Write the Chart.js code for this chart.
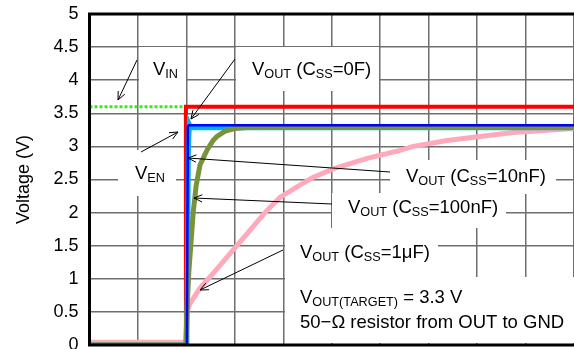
<!DOCTYPE html>
<html>
<head>
<meta charset="utf-8">
<script src="https://cdn.jsdelivr.net/npm/chart.js@4.4.1/dist/chart.umd.min.js"></script>
<style>
  html, body { margin: 0; padding: 0; background: #fff; }
  #wrap { width: 574px; height: 349px; position: relative; }
</style>
</head>
<body>
<div id="wrap"><canvas id="c" width="574" height="349"></canvas></div>
<script>
// ---- data (x in time divisions 0..10, y in volts) ----
const yTickLabels = ['0','0.5','1','1.5','2','2.5','3','3.5','4','4.5','5'];

const vinX = [0, 1.99];
const vinY = [3.6, 3.6];

const enX = [0, 1.99, 1.99, 10];
const enY = [0, 0, 3.6, 3.6];

const out0fX = [0, 2.01, 2.03, 2.05, 10];
const out0fY = [0, 0, 3.3, 3.32, 3.32];

const out10nX = [0, 2.01, 2.04, 2.06, 2.09, 2.3, 10];
const out10nY = [0, 0, 2.9, 3.33, 3.28, 3.28, 3.28];

const out100nX = [0, 1.99, 2.01, 2.05, 2.1, 2.14, 2.2, 2.28, 2.43, 2.55, 2.63, 2.8, 3.0, 3.31, 3.58, 10];
const out100nY = [0, 0, 0.5, 1.1, 1.6, 2.0, 2.4, 2.72, 2.95, 3.09, 3.15, 3.23, 3.27, 3.29, 3.3, 3.29];

const out1uX = [0, 1.99, 2.01, 2.07, 2.28, 2.55, 2.9, 3.25, 3.62, 3.93, 4.35, 4.61, 5.03, 5.73, 6.41, 6.68, 7.38, 8.06, 8.74, 9.4, 10];
const out1uY = [0.04, 0.04, 0.5, 0.62, 0.86, 1.08, 1.38, 1.68, 2.0, 2.23, 2.42, 2.53, 2.66, 2.82, 2.94, 3.0, 3.09, 3.15, 3.21, 3.24, 3.27];

function pts(xs, ys) { return xs.map((x, i) => ({ x: x, y: ys[i] })); }

const FONT = '"Liberation Sans", Arial, Helvetica, sans-serif';
const AREA = { top: 14, bottom: 345, left: 89.5, right: 574 };

// ---- annotation layout (pixels) ----
const boxes = [
  [139, 47, 186, 100],
  [236, 47, 379, 91],
  [118, 150, 176, 196],
  [390, 160, 556, 194],
  [332, 193, 506, 228],
  [285, 228, 438, 277],
  [285, 277, 574, 343]
];
const labels = [
  { x: 153, y: 75, parts: [['V'], ['IN', 1]] },
  { x: 252, y: 75, parts: [['V'], ['OUT', 1], [' (C'], ['SS', 1], ['=0F)']] },
  { x: 135, y: 179, parts: [['V'], ['EN', 1]] },
  { x: 406, y: 182, parts: [['V'], ['OUT', 1], [' (C'], ['SS', 1], ['=10nF)']] },
  { x: 348, y: 213, parts: [['V'], ['OUT', 1], [' (C'], ['SS', 1], ['=100nF)']] },
  { x: 300, y: 258, parts: [['V'], ['OUT', 1], [' (C'], ['SS', 1], ['=1\u03bcF)']] },
  { x: 300, y: 303, parts: [['V'], ['OUT(TARGET)', 1], [' = 3.3 V']] },
  { x: 300, y: 328, parts: [['50\u2212\u03a9 resistor from OUT to GND']] }
];
const arrows = [
  [137, 60, 118, 100],
  [235, 59, 191, 119],
  [141, 152, 178, 132],
  [390, 172, 188, 158],
  [332, 204, 194, 198],
  [283, 250, 200, 290]
];

const annot = {
  id: 'annot',
  beforeDatasetsDraw(chart) {
    const ctx = chart.ctx;
    ctx.save();
    ctx.fillStyle = '#ffffff';
    boxes.forEach(b => ctx.fillRect(b[0], b[1], b[2] - b[0], b[3] - b[1]));
    ctx.restore();
  },
  afterDatasetsDraw(chart) {
    const ctx = chart.ctx;
    const a = chart.chartArea;
    ctx.save();
    // frame
    ctx.strokeStyle = '#000';
    ctx.lineWidth = 3;
    ctx.beginPath();
    ctx.moveTo(a.right + 2, a.top);
    ctx.lineTo(a.left, a.top);
    ctx.lineTo(a.left, a.bottom);
    ctx.lineTo(a.right + 2, a.bottom);
    ctx.stroke();
    // arrows
    ctx.strokeStyle = '#000';
    ctx.lineWidth = 1;
    arrows.forEach(ar => {
      const [x1, y1, x2, y2] = ar;
      ctx.beginPath();
      ctx.moveTo(x1, y1); ctx.lineTo(x2, y2);
      const ang = Math.atan2(y2 - y1, x2 - x1);
      const L = 9, w = 0.42;
      ctx.moveTo(x2 - L * Math.cos(ang - w), y2 - L * Math.sin(ang - w));
      ctx.lineTo(x2, y2);
      ctx.lineTo(x2 - L * Math.cos(ang + w), y2 - L * Math.sin(ang + w));
      ctx.stroke();
    });
    // text
    ctx.fillStyle = '#000';
    ctx.textBaseline = 'alphabetic';
    ctx.textAlign = 'left';
    labels.forEach(lb => {
      let x = lb.x;
      lb.parts.forEach(p => {
        const sub = p[1] === 1;
        ctx.font = (sub ? '12.7px ' : '18.5px ') + FONT;
        ctx.fillText(p[0], x, lb.y + (sub ? 3 : 0));
        x += ctx.measureText(p[0]).width;
      });
    });
    ctx.restore();
  }
};

const ds = (label, xs, ys, color, width, extra) => Object.assign({
  label: label,
  data: pts(xs, ys),
  borderColor: color,
  backgroundColor: color,
  borderWidth: width,
  pointRadius: 0,
  tension: 0,
  fill: false
}, extra || {});

const chart = new Chart(document.getElementById('c'), {
  type: 'line',
  data: {
    datasets: [
      ds('VOUT (CSS=0F)', out0fX, out0fY, '#0000ff', 2.5),
      ds('VOUT (CSS=100nF)', out100nX, out100nY, '#77933c', 5),
      ds('VOUT (CSS=10nF)', out10nX, out10nY, '#00b0f0', 5),
      ds('VEN', enX, enY, '#ff0000', 4),
      ds('VIN', vinX, vinY, '#33ee11', 3, { borderDash: [3, 2] }),
      ds('VOUT (CSS=1uF)', out1uX, out1uY, '#ffaabb', 5)
    ]
  },
  options: {
    responsive: false,
    animation: false,
    events: [],
    layout: { autoPadding: false, padding: { top: 14, right: 0, bottom: 0, left: 0 } },
    plugins: { legend: { display: false }, tooltip: { enabled: false } },
    scales: {
      x: {
        type: 'linear', min: 0, max: 10,
        ticks: { display: false, stepSize: 1 },
        grid: { color: '#6e6e6e', lineWidth: 1.5, drawTicks: false },
        border: { display: false },
        afterFit(s) { s.height = 4; s.paddingLeft = 0; s.paddingRight = 0; }
      },
      y: {
        min: 0, max: 5,
        ticks: {
          stepSize: 0.5, padding: 11, color: '#000',
          font: { family: FONT, size: 18 },
          callback: (v) => yTickLabels[Math.round(v * 2)]
        },
        grid: { color: '#6e6e6e', lineWidth: 1.5, drawTicks: false },
        border: { display: false },
        title: { display: true, text: 'Voltage (V)', color: '#000', font: { family: FONT, size: 18 }, padding: { top: 13, bottom: 0 } },
        afterFit(s) { s.width = 89.5; s.paddingTop = 0; s.paddingBottom = 0; }
      }
    }
  },
  plugins: [annot]
});

// nudge layout padding so the plot area lands where the reference's does
for (let i = 0; i < 4; i++) {
  const ca = chart.chartArea;
  const p = chart.options.layout.padding;
  const np = {
    top: p.top + (AREA.top - ca.top),
    bottom: p.bottom + (ca.bottom - AREA.bottom),
    left: p.left + (AREA.left - ca.left),
    right: p.right + (ca.right - AREA.right)
  };
  if (Math.abs(np.top - p.top) + Math.abs(np.bottom - p.bottom) + Math.abs(np.left - p.left) + Math.abs(np.right - p.right) < 0.1) break;
  chart.options.layout.padding = np;
  chart.update();
}
</script>
</body>
</html>
